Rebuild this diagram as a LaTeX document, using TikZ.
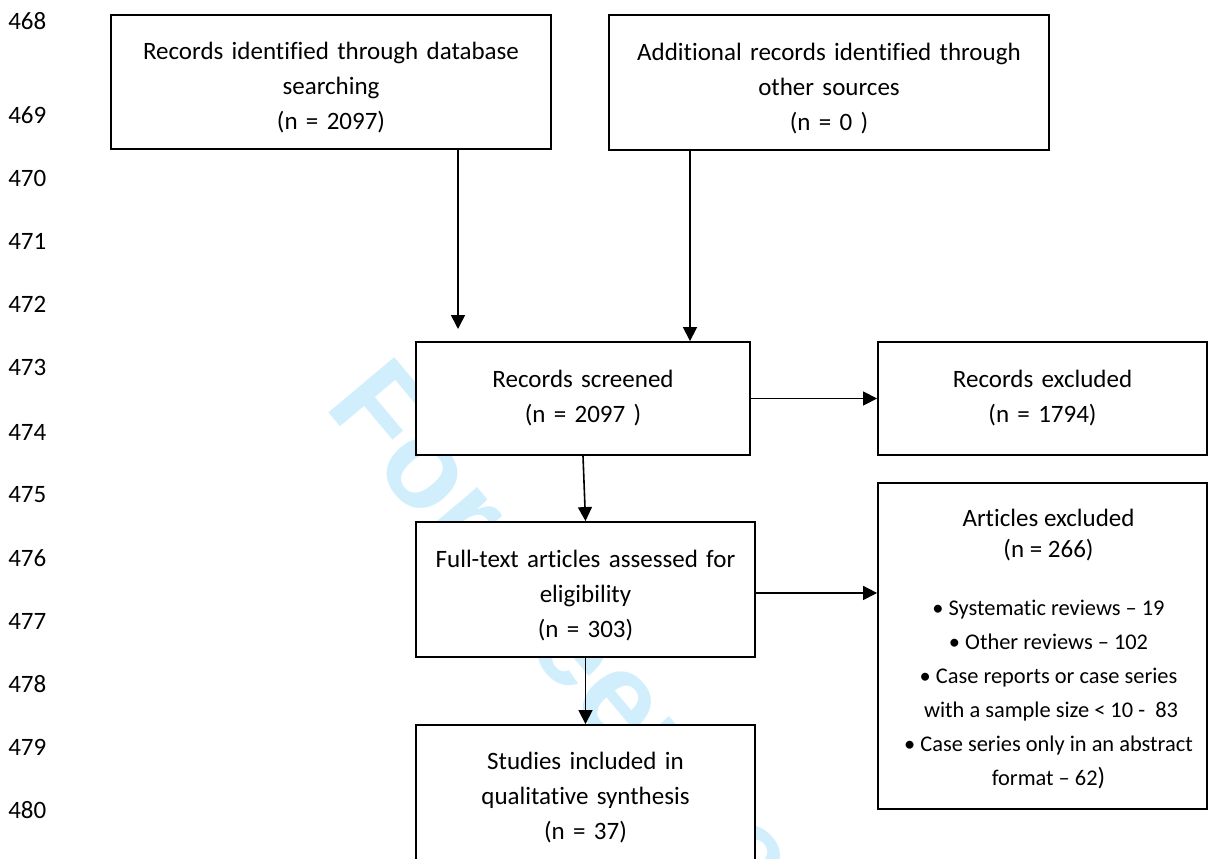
\documentclass[tikz,border=0pt]{standalone}
\usepackage{fontspec}
\setmainfont{Carlito}[Ligatures=NoCommon]
\newfontfamily\wmfont{Liberation Sans}
\usetikzlibrary{arrows.meta,calc}
\definecolor{wmcyan}{RGB}{208,238,252}
\begin{document}
\begin{tikzpicture}[x=0.75pt,y=-0.75pt,
  box/.style={draw=black,line width=1.4pt,fill=white,inner sep=0pt,align=center,
    font=\fontsize{18.75}{26.25}\selectfont},
  arr/.style={line width=1.2pt,-{Triangle[length=10.5pt,width=10.5pt]}},
  lnum/.style={anchor=west,inner sep=0pt,font=\fontsize{18.75}{22}\selectfont},
  wm/.style={text=wmcyan,inner sep=0pt,font=\wmfont\bfseries\fontsize{93.75}{110}\selectfont}]
\useasboundingbox[fill=white] (0,0) rectangle (1209,859);

% watermark
\node[wm,rotate=-50,anchor=base west] (wmark) at (323.4,406.3) {For peer review only};

% line numbers
\node[lnum] (l468) at (8,21) {468};
\node[lnum] (l469) at (8,115) {469};
\node[lnum] (l470) at (8,178) {470};
\node[lnum] (l471) at (8,241) {471};
\node[lnum] (l472) at (8,304) {472};
\node[lnum] (l473) at (8,367) {473};
\node[lnum] (l474) at (8,432) {474};
\node[lnum] (l475) at (8,495) {475};
\node[lnum] (l476) at (8,558) {476};
\node[lnum] (l477) at (8,621) {477};
\node[lnum] (l478) at (8,684) {478};
\node[lnum] (l479) at (8,747) {479};
\node[lnum] (l480) at (8,810) {480};

% boxes
\node[box,text width=330pt,minimum height=100.5pt] (b1) at (331,82)
  {\rule{0pt}{21.5pt}Records identified through database\\searching\\(n = 2097)};
\node[box,text width=330pt,minimum height=101.25pt] (b2) at (829,82.5)
  {\rule{0pt}{21.5pt}Additional records identified through\\other sources\\(n = 0 )};
\node[box,text width=250.5pt,minimum height=84.75pt] (scr) at (583,398.5)
  {Records screened\\(n = 2097 )};
\node[box,text width=246.75pt,minimum height=84.75pt] (exc1) at (1042.5,398.5)
  {Records excluded\\(n = 1794)};
\node[box,text width=254.25pt,minimum height=101.25pt] (ft) at (585.5,589.5)
  {\rule{0pt}{21.5pt}Full-text articles assessed for\\eligibility\\(n = 303)};
\node[box,minimum width=246.75pt,minimum height=244.5pt] (exc2) at (1042.5,646)
  {\hspace*{9pt}\parbox{225pt}{\vspace*{4.5pt}\centering
   {\fontsize{18.75}{23.25}\selectfont Articles excluded\\(n = 266)\par}
   \vspace{18pt}
   {\fontsize{16.8}{25.5}\selectfont
   \textbullet{} Systematic reviews – 19\\
   \textbullet{} Other reviews – 102\\
   \textbullet{} Case reports or case series\\
   \ with a sample size < 10 -\ \ 83\\
   \textbullet{} Case series only in an abstract\\
   format – 62{\fontsize{18.75}{23.25}\selectfont)}\par}}};
\node[box,text width=254.25pt,minimum height=108.75pt] (st) at (585.5,797.5)
  {Studies included in\\qualitative synthesis\\(n = 37)};

% connectors
\coordinate (a1end) at (458,329);
\coordinate (a2x) at (690,0);
\draw[arr] (b1.south -| a1end) -- (a1end);
\draw[arr] (b2.south -| a2x) -- (scr.north -| a2x);
\draw[arr] (scr.south) -- (ft.north);
\draw[arr] (ft.south) -- (st.north);
\draw[arr] (scr.east) -- (exc1.west);
\draw[arr] ([yshift=-2.6pt]ft.east) -- ([yshift=-2.6pt]ft.east -| exc2.west);
\end{tikzpicture}
\end{document}
